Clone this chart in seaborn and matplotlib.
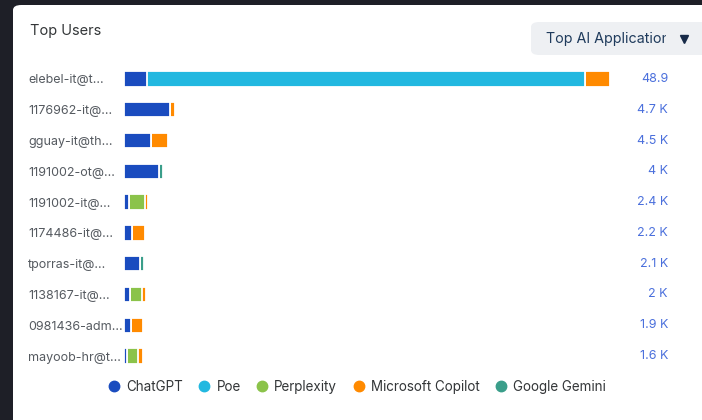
import matplotlib
matplotlib.use("Agg")
import matplotlib.pyplot as plt
import matplotlib.transforms as mtransforms
from matplotlib.patches import FancyBboxPatch, Rectangle
from matplotlib.lines import Line2D
import seaborn as sns
import pandas as pd
import numpy as np

users = ["elebel-it@t...", "1176962-it@...", "gguay-it@th...", "1191002-ot@...",
         "1191002-it@...", "1174486-it@...", "tporras-it@...", "1138167-it@...",
         "0981436-adm...", "mayoob-hr@t..."]
value_labels = ["48.9", "4.7 K", "4.5 K", "4 K", "2.4 K", "2.2 K", "2.1 K", "2 K", "1.9 K", "1.6 K"]

series = ["ChatGPT", "Poe", "Perplexity", "Microsoft Copilot", "Google Gemini"]
chatgpt    = [2.3, 4.6, 2.7, 3.5, 0.5, 0.8, 1.6, 0.6, 0.7, 0.3]
poe        = [44.1, 0, 0, 0, 0, 0, 0, 0, 0, 0]
perplexity = [0, 0, 0, 0, 1.6, 0, 0, 1.2, 0, 1.1]
copilot    = [2.5, 0.5, 1.7, 0, 0.3, 1.3, 0, 0.4, 1.2, 0.5]
gemini     = [0, 0, 0, 0.4, 0, 0, 0.4, 0, 0, 0]
colors = ["#1a4cbf", "#22b8e0", "#8bc34a", "#ff8a00", "#3a9e8a"]

W, H = 702, 420
sns.set_theme(style="white")
plt.rcParams["font.family"] = ["Inter", "DejaVu Sans"]

fig = plt.figure(figsize=(W / 100, H / 100), dpi=100)
fig.patch.set_facecolor("#1e1f27")

# white card
card = FancyBboxPatch((13 / W, -0.05), 1.2, (H - 5) / H + 0.05,
                      boxstyle="round,pad=0,rounding_size=0.012",
                      transform=fig.transFigure, facecolor="white", edgecolor="none", zorder=-2)
fig.patches.append(card)

# axes placement
x0, x1 = 124, 620
row_top, row_bot = 79, 356
step = (row_bot - row_top) / 9
ytop = row_top - step / 2
ybot = row_bot + step / 2
ax = fig.add_axes([x0 / W, 1 - ybot / H, (x1 - x0) / W, (ybot - ytop) / H])
ax.set_facecolor("none")
ax.set_zorder(5)

vals = np.array([chatgpt, poe, perplexity, copilot, gemini])
cum = np.cumsum(vals, axis=0)
for i in range(len(series) - 1, -1, -1):
    df = pd.DataFrame({"user": users, "cum": cum[i]})
    sns.barplot(data=df, x="cum", y="user", order=users, orient="h",
                color=colors[i], saturation=1, width=0.5, errorbar=None,
                edgecolor="white", linewidth=1.3, ax=ax)

scale = 48.9 / (610 - 124)
ax.set_xlim(0, (x1 - x0) * scale)
ax.set_ylim(9.5, -0.5)
for s in ax.spines.values():
    s.set_visible(False)
ax.set_xticks([])
ax.set_xlabel("")
ax.set_ylabel("")
ax.tick_params(axis="y", length=0, pad=(124 - 28) * 0.72)
for lab in ax.get_yticklabels():
    lab.set_horizontalalignment("left")
    lab.set_color("#555a60")
    lab.set_fontsize(9)

# value labels
trans = mtransforms.blended_transform_factory(fig.transFigure, ax.transData)
for i, t in enumerate(value_labels):
    ax.text(668 / W, i, t, transform=trans, ha="right", va="center",
            fontsize=9, color="#4a6fdc", clip_on=False)

# title
fig.text(30 / W, 1 - 31 / H, "Top Users", ha="left", va="center",
         fontsize=10.5, color="#333638")

# dropdown button
btn = FancyBboxPatch((531 / W, 1 - 55 / H), 200 / W, 33 / H,
                     boxstyle="round,pad=0,rounding_size=0.012",
                     transform=fig.transFigure, facecolor="#eef0f3", edgecolor="none", zorder=-1)
fig.patches.append(btn)
bt = fig.text(546 / W, 1 - 38.5 / H, "Top AI Applications", ha="left", va="center",
              fontsize=10.3, color="#1f3b5c", zorder=2)
clip = Rectangle((540 / W, 0), (666 - 540) / W, 1, transform=fig.transFigure)
bt.set_clip_path(clip)
bt.set_clip_on(True)
fig.add_artist(Line2D([684 / W], [1 - 39 / H], marker="v", markersize=5.5,
                      color="#172a48", linestyle="none", transform=fig.transFigure))

# legend
handles = [Line2D([0], [0], marker="o", linestyle="none", markersize=7.5,
                  markerfacecolor=c, markeredgecolor=c) for c in colors]
leg = fig.legend(handles, series, loc="center", bbox_to_anchor=(356 / W, 1 - 387 / H),
                 ncol=5, frameon=False, fontsize=9.7, handletextpad=0.3,
                 columnspacing=1.0, handlelength=1.2, labelcolor="#333638")

fig.savefig("out.png", dpi=100, facecolor=fig.get_facecolor())
